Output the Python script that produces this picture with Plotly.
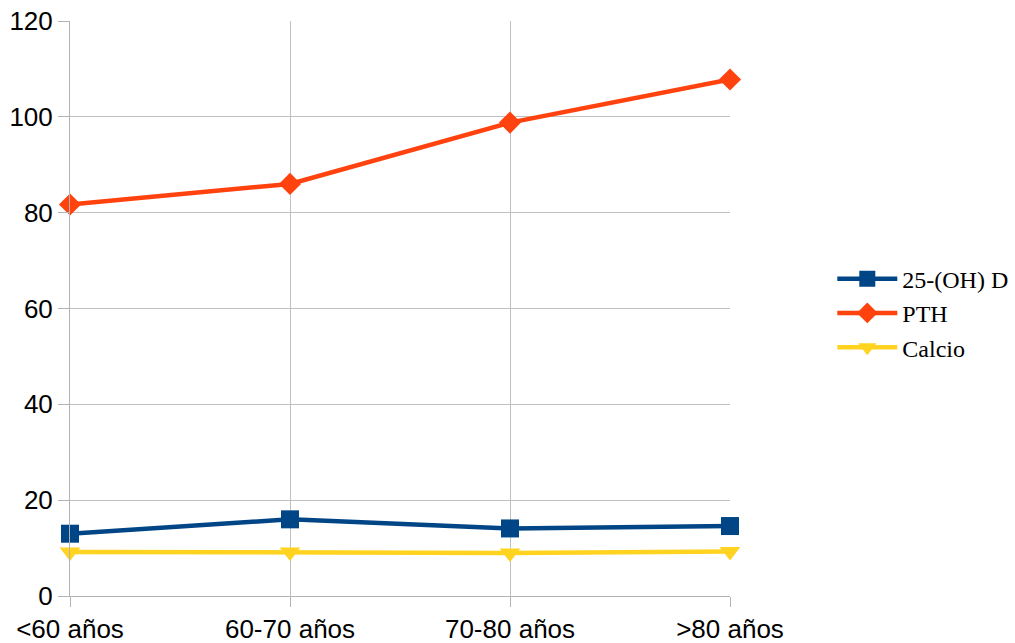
import plotly.graph_objects as go

# Age groups and mean values per group
categories = ["<60 años", "60-70 años", "70-80 años", ">80 años"]
vit_d = [13.0, 16.0, 14.1, 14.6]
pth = [81.7, 86.0, 98.8, 107.8]
calcio = [9.2, 9.2, 9.0, 9.3]

y_ticks = [0, 20, 40, 60, 80, 100, 120]

x_pos = list(range(len(categories)))

series = [
    ("25-(OH) D", vit_d, "#004586", "square", 18),
    ("PTH", pth, "#ff420e", "diamond", 17),
    ("Calcio", calcio, "#ffd320", "triangle-down", 18),
]

fig = go.Figure()
for name, vals, color, symbol, msize in series:
    fig.add_trace(go.Scatter(
        x=x_pos, y=vals, name=name, mode="lines+markers",
        line=dict(color=color, width=4.5),
        marker=dict(color=color, symbol=symbol, size=msize, line=dict(width=0)),
        cliponaxis=False,
    ))

fig.update_layout(
    width=1015, height=643,
    margin=dict(l=70, r=285, t=21, b=47),
    paper_bgcolor="white", plot_bgcolor="white",
    font=dict(family="Liberation Sans, Arial, sans-serif", size=26, color="black"),
    showlegend=True,
    legend=dict(
        xref="container", yref="container",
        x=0.820, y=0.513, xanchor="left", yanchor="middle",
        font=dict(family="Liberation Serif, Times New Roman, serif", size=24, color="black"),
        itemwidth=60, bgcolor="rgba(0,0,0,0)",
    ),
)

fig.update_xaxes(
    range=[0, len(categories) - 1], automargin=False,
    tickmode="array", tickvals=x_pos, ticktext=categories,
    showgrid=True, gridcolor="#c0c0c0", gridwidth=1,
    showline=True, linecolor="#b3b3b3", linewidth=1,
    ticks="outside", ticklen=10, tickcolor="#b3b3b3",
    zeroline=False,
)
fig.update_yaxes(
    range=[0, 120], automargin=False,
    tickmode="array", tickvals=y_ticks,
    showgrid=True, gridcolor="#c0c0c0", gridwidth=1,
    showline=True, linecolor="#b3b3b3", linewidth=1,
    ticks="outside", ticklen=11, tickcolor="#b3b3b3",
    zeroline=False,
)

fig.write_html("out.html")
